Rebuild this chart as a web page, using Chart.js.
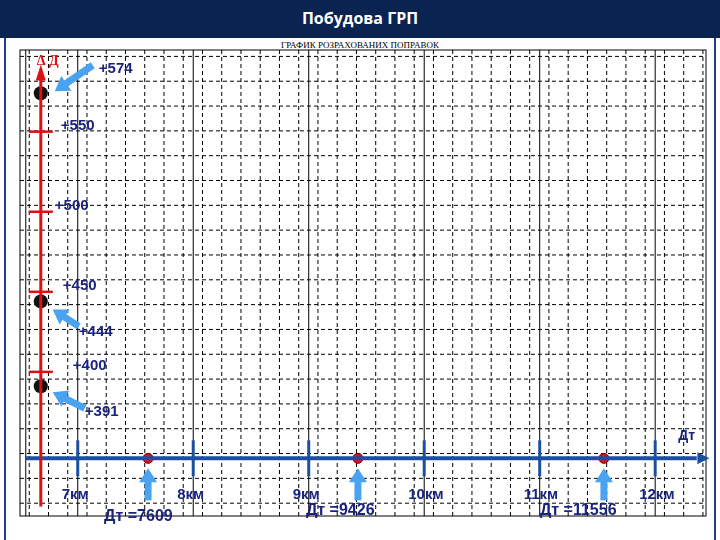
<!DOCTYPE html><html><head><meta charset="utf-8">
<script src="https://cdn.jsdelivr.net/npm/chart.js@4"></script>
<style>body{margin:0;width:720px;height:540px;background:#fff;position:relative;overflow:hidden;font-family:"Liberation Sans",Arial}
#hdr{position:absolute;left:0;top:0;width:720px;height:38px;background:#0b2350;color:#fff;font:bold 16px "Open Sans",Arial;text-align:center;line-height:36px}
#box{position:absolute;left:4px;top:38px;width:712px;height:502px;border-left:2px solid #1c3f8a;border-right:2px solid #1c3f8a;box-sizing:border-box}
#sub{position:absolute;left:0;top:40px;width:720px;text-align:center;font:9px "Liberation Serif",serif}
#wrap{position:absolute;left:0;top:0;width:720px;height:540px}</style></head><body>
<div id="hdr">Побудова ГРП</div><div id="box"></div><div id="sub">ГРАФИК РОЗРАХОВАНИХ ПОПРАВОК</div>
<div id="wrap"><canvas id="c"></canvas></div>
<script>
const kmTicks=[7,8,9,10,11,12];
const kmLabels=["7км","8км","9км","10км","11км","12км"];
const dTicks=[550,500,450,400];
const dLabels=["+550","+500","+450","+400"];
const dPoints=[574,444,391];
const dPointLabels=["+574","+444","+391"];
const dtValues=[7609,9426,11556];
const axisX=6.68, axisY=346;
const X0=6.5,X1=12.44,Y0=310,Y1=601;
const plug={id:'p',beforeDatasetsDraw(ch){const c=ch.ctx,x=ch.scales.x,y=ch.scales.y;const a=ch.chartArea;
c.save();c.strokeStyle='#000';c.lineWidth=1;
c.setLineDash([4,3]);
for(let v=X0+0.08;v<=X1;v+=1/6){const px=x.getPixelForValue(v);c.beginPath();c.moveTo(px,a.top);c.lineTo(px,a.bottom);c.stroke();}
for(let v=Y0+8;v<=Y1;v+=15.5){const py=y.getPixelForValue(v);c.beginPath();c.moveTo(a.left,py);c.lineTo(a.right,py);c.stroke();}
c.setLineDash([]);
[6.55,7,8,9,10,11,12].forEach(v=>{const px=x.getPixelForValue(v);c.beginPath();c.moveTo(px,a.top);c.lineTo(px,a.bottom);c.stroke();});
c.strokeRect(a.left,a.top,a.right-a.left,a.bottom-a.top);
c.restore();},
afterDatasetsDraw(ch){const c=ch.ctx,x=ch.scales.x,y=ch.scales.y;c.save();
const ax=x.getPixelForValue(axisX), ay=y.getPixelForValue(axisY);
c.fillStyle='#e01010';c.beginPath();c.moveTo(ax,y.getPixelForValue(592));c.lineTo(ax-5,y.getPixelForValue(582));c.lineTo(ax+5,y.getPixelForValue(582));c.fill();
const xe=x.getPixelForValue(12.4);c.fillStyle='#1d4fa0';c.beginPath();c.moveTo(xe+8,ay);c.lineTo(xe-4,ay-6);c.lineTo(xe-4,ay+6);c.fill();
c.strokeStyle='#e01010';c.lineWidth=2.5;dTicks.forEach(v=>{const py=y.getPixelForValue(v);c.beginPath();c.moveTo(ax-12,py);c.lineTo(ax+12,py);c.stroke();});
c.strokeStyle='#1d4fa0';c.lineWidth=3;kmTicks.forEach(v=>{const px=x.getPixelForValue(v);c.beginPath();c.moveTo(px,ay-18);c.lineTo(px,ay+18);c.stroke();});
c.font='bold 15px "Liberation Sans",Arial';c.fillStyle='#1a237e';c.textBaseline='middle';
const off=[[0,0],[-6,0],[2,-6],[12,2]];
dTicks.forEach((v,i)=>c.fillText(dLabels[i],ax+20+off[i][0],y.getPixelForValue(v)-6));
const lp=[[58,-24],[38,30],[44,26]];
dPoints.forEach((v,i)=>c.fillText(dPointLabels[i],ax+lp[i][0],y.getPixelForValue(v)+lp[i][1]));
c.textAlign='left';kmTicks.forEach((v,i)=>c.fillText(kmLabels[i],x.getPixelForValue(v)-16,ay+37));
c.font='bold 16px "Liberation Sans",Arial';
const lx=[-44,-52,-64];dtValues.forEach((v,i)=>{c.fillText('Дт ='+v,x.getPixelForValue(v/1000)+lx[i],i==0?ay+58:ay+52);});
c.font='bold 14px "Liberation Sans",Arial';c.fillText('Дт',x.getPixelForValue(12.2),ay-22);
c.fillStyle='#e01010';c.font='bold 14px "Liberation Serif",serif';c.fillText('Δ Д',ax-4,y.getPixelForValue(594));
c.strokeStyle='#4aa3f0';c.fillStyle='#4aa3f0';c.lineWidth=7;
function arr(x1,y1,x2,y2){const an=Math.atan2(y2-y1,x2-x1);c.beginPath();c.moveTo(x1,y1);c.lineTo(x2-9*Math.cos(an),y2-9*Math.sin(an));c.stroke();c.beginPath();c.moveTo(x2,y2);c.lineTo(x2-14*Math.cos(an)+9*Math.sin(an),y2-14*Math.sin(an)-9*Math.cos(an));c.lineTo(x2-14*Math.cos(an)-9*Math.sin(an),y2-14*Math.sin(an)+9*Math.cos(an));c.fill();}
const p0=y.getPixelForValue(574);arr(ax+52,p0-28,ax+14,p0-2);
const p1=y.getPixelForValue(444);arr(ax+38,p1+25,ax+12,p1+8);
const p2=y.getPixelForValue(391);arr(ax+44,p2+22,ax+12,p2+6);
dtValues.forEach(v=>{const px=x.getPixelForValue(v/1000);arr(px,ay+42,px,ay+10);});
c.restore();}};
new Chart(document.getElementById('c'),{type:'scatter',data:{datasets:[
{type:'line',data:[{x:axisX,y:Y0+6},{x:axisX,y:588}],borderColor:'#e01010',borderWidth:3,pointRadius:0},
{type:'line',data:[{x:6.55,y:axisY},{x:12.36,y:axisY}],borderColor:'#1d4fa0',borderWidth:4,pointRadius:0},
{data:dPoints.map(v=>({x:axisX,y:v})),backgroundColor:'#111',pointRadius:7,pointStyle:'ellipse'},
{data:dtValues.map(v=>({x:v/1000,y:axisY})),backgroundColor:'#e01010',borderColor:'#700',pointRadius:5}]},
options:{responsive:true,maintainAspectRatio:false,animation:false,events:[],
layout:{padding:{left:20,right:14,top:50,bottom:24}},
plugins:{legend:{display:false},tooltip:{enabled:false}},
scales:{x:{type:'linear',min:X0,max:X1,display:false},y:{min:Y0,max:Y1,display:false}}},plugins:[plug]});
</script></body></html>
